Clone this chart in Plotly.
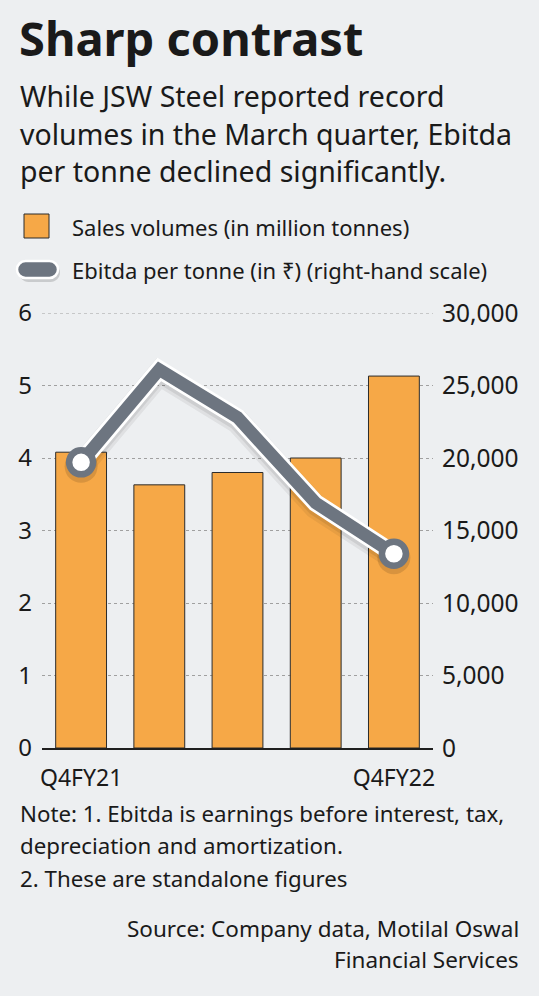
import plotly.graph_objects as go

# ---------------- data ----------------
quarters = ["Q4FY21", "Q1FY22", "Q2FY22", "Q3FY22", "Q4FY22"]
tick_quarters = ["Q4FY21", "Q4FY22"]
sales_volumes = [4.08, 3.63, 3.80, 4.00, 5.13]          # million tonnes
ebitda_per_tonne = [19700, 26100, 22800, 16900, 13400]  # Rs, right-hand scale
left_ticks = [0, 1, 2, 3, 4, 5, 6]
right_ticks = [0, 5000, 10000, 15000, 20000, 25000, 30000]
right_tick_text = ["0", "5,000", "10,000", "15,000", "20,000", "25,000", "30,000"]

title = "Sharp contrast"
subtitle_lines = ["While JSW Steel reported record",
                  "volumes in the March quarter, Ebitda",
                  "per tonne declined significantly."]
legend_bar = "Sales volumes (in million tonnes)"
legend_line = "Ebitda per tonne (in ₹) (right-hand scale)"
note_lines = ["Note: 1. Ebitda is earnings before interest, tax,",
              "depreciation and amortization.",
              "2. These are standalone figures"]
source_lines = ["Source: Company data, Motilal Oswal", "Financial Services"]

# ---------------- style ----------------
W, H = 539, 996
L, R, T, B = 42, 106, 313, 248
PW, PH = W - L - R, H - T - B
BG = "#EDEFF1"
ORANGE = "#F6A847"
GREY = "#6D7580"
TXT = "#1a1a1a"
FONT = "Noto Sans"
GRID = "#a0a0a0"


def px(x):
    return (x - L) / PW


def py(y):
    return (H - B - y) / PH


fig = go.Figure()

fig.add_trace(go.Bar(
    x=quarters, y=sales_volumes, marker=dict(color=ORANGE, line=dict(color="#2b2b2b", width=1)),
    yaxis="y", showlegend=False, hoverinfo="skip"))

# shadow of the line (on a slightly shifted hidden axis)
fig.add_trace(go.Scatter(
    x=quarters, y=ebitda_per_tonne, mode="lines", yaxis="y2",
    line=dict(color="rgba(0,0,0,0.06)", width=24), showlegend=False, hoverinfo="skip"))
fig.add_trace(go.Scatter(
    x=quarters, y=ebitda_per_tonne, mode="lines", yaxis="y2",
    line=dict(color="rgba(0,0,0,0.08)", width=18), showlegend=False, hoverinfo="skip"))
fig.add_trace(go.Scatter(
    x=[quarters[0], quarters[-1]], y=[ebitda_per_tonne[0], ebitda_per_tonne[-1]], mode="markers", yaxis="y2",
    marker=dict(color="rgba(0,0,0,0.12)", size=33, line=dict(width=0)), showlegend=False, hoverinfo="skip"))

# line with white outline
fig.add_trace(go.Scatter(
    x=quarters, y=ebitda_per_tonne, mode="lines", yaxis="y3",
    line=dict(color="white", width=18), showlegend=False, hoverinfo="skip"))
fig.add_trace(go.Scatter(
    x=quarters, y=ebitda_per_tonne, mode="lines", yaxis="y3",
    line=dict(color=GREY, width=12.5), showlegend=False, hoverinfo="skip"))
fig.add_trace(go.Scatter(
    x=[quarters[0], quarters[-1]], y=[ebitda_per_tonne[0], ebitda_per_tonne[-1]], mode="markers", yaxis="y3",
    marker=dict(color="white", size=24, line=dict(color=GREY, width=6.5)), showlegend=False, hoverinfo="skip"))

shift = 4 * 30000 / PH

fig.update_layout(
    width=W, height=H, margin=dict(l=L, r=R, t=T, b=B, pad=0),
    paper_bgcolor=BG, plot_bgcolor=BG, bargap=0.35, showlegend=False,
    font=dict(family=FONT, color=TXT),
    xaxis=dict(type="category", categoryorder="array", categoryarray=quarters,
               range=[-0.5, 4.5], tickvals=tick_quarters, ticktext=tick_quarters,
               tickfont=dict(size=23, color=TXT), ticks="", ticklabelstandoff=9,
               showgrid=False, showline=True, linecolor="#1f1f1f", linewidth=1.5, zeroline=False),
    yaxis=dict(range=[0, 6], tickvals=left_ticks, tickfont=dict(size=24, color=TXT), ticks="",
               ticklabelstandoff=9, showgrid=True, gridcolor=GRID, griddash="dot", gridwidth=1,
               zeroline=False, showline=False),
    yaxis2=dict(range=[0 + shift, 30000 + shift], overlaying="y", side="right", visible=False,
                showgrid=False, zeroline=False),
    yaxis3=dict(range=[0, 30000], overlaying="y", side="right", tickvals=right_ticks,
                ticktext=right_tick_text, tickfont=dict(size=24.5, color=TXT), ticks="",
                ticklabelstandoff=8, showgrid=False, zeroline=False, showline=False),
)

ann = []
ann.append(dict(text=f"<b>{title}</b>", x=px(17), y=py(55 - 0.37 * 47), xanchor="left", yanchor="middle",
                font=dict(size=47, family=FONT, color=TXT)))
for i, (line, base) in enumerate(zip(subtitle_lines, [107, 145, 182])):
    ann.append(dict(text=line, x=px(18), y=py(base - 0.37 * 28.5), xanchor="left", yanchor="middle",
                    font=dict(size=28.5, family=FONT, color=TXT)))
ann.append(dict(text=legend_bar, x=px(70), y=py(227), xanchor="left", yanchor="middle",
                font=dict(size=22, family=FONT, color=TXT)))
ann.append(dict(text=legend_line, x=px(70), y=py(270), xanchor="left", yanchor="middle",
                font=dict(size=22, family=FONT, color=TXT)))
for line, base in zip(note_lines, [822, 854, 887]):
    ann.append(dict(text=line, x=px(18), y=py(base - 0.37 * 22.3), xanchor="left", yanchor="middle",
                    font=dict(size=22.3, family=FONT, color=TXT)))
for line, base in zip(source_lines, [937, 968]):
    ann.append(dict(text=line, x=px(521), y=py(base - 0.37 * 22.5), xanchor="right", yanchor="middle",
                    font=dict(size=22.5, family=FONT, color=TXT)))
for a in ann:
    a.update(xref="paper", yref="paper", showarrow=False)
fig.update_layout(annotations=ann)

# legend symbols
def pill_path(x0, x1, y0, y1):
    r = (y1 - y0) / 2
    ym = (y0 + y1) / 2
    pts = [
        f"M {px(x0 + r)} {py(y0)}",
        f"L {px(x1 - r)} {py(y0)}",
        f"C {px(x1 - r + r * 0.55)} {py(y0)} {px(x1)} {py(ym - r * 0.55)} {px(x1)} {py(ym)}",
        f"C {px(x1)} {py(ym + r * 0.55)} {px(x1 - r + r * 0.55)} {py(y1)} {px(x1 - r)} {py(y1)}",
        f"L {px(x0 + r)} {py(y1)}",
        f"C {px(x0 + r - r * 0.55)} {py(y1)} {px(x0)} {py(ym + r * 0.55)} {px(x0)} {py(ym)}",
        f"C {px(x0)} {py(ym - r * 0.55)} {px(x0 + r - r * 0.55)} {py(y0)} {px(x0 + r)} {py(y0)} Z",
    ]
    return " ".join(pts)

shapes = [
    # top gridline (at the edge of the plotting area)
    dict(type="line", xref="paper", yref="y", x0=0, x1=1, y0=left_ticks[-1], y1=left_ticks[-1],
         line=dict(color=GRID, width=1, dash="dot"), layer="below"),
    dict(type="rect", xref="paper", yref="paper", x0=px(24), x1=px(49), y0=py(238), y1=py(214),
         fillcolor=ORANGE, line=dict(color="#2b2b2b", width=1)),
    dict(type="path", xref="paper", yref="paper", path=pill_path(19, 60, 263, 282),
         fillcolor="rgba(0,0,0,0.15)", line=dict(width=0)),
    dict(type="path", xref="paper", yref="paper", path=pill_path(17, 58, 261, 278),
         fillcolor=GREY, line=dict(color="white", width=2.5)),
]
fig.update_layout(shapes=shapes)

fig.write_html("out.html")
